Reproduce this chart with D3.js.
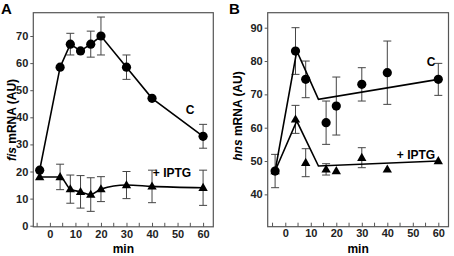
<!DOCTYPE html>
<html>
<head>
<meta charset="utf-8">
<script src="https://cdn.jsdelivr.net/npm/d3@7"></script>
<style>
  body { margin: 0; background: #fff; }
  text { font-family: "Liberation Sans", Arial, sans-serif; font-weight: bold; }
</style>
</head>
<body>
<div class="box"></div>
<script>
// ---- data ----
// panel A : fis mRNA
const timesA = [-4, 4, 8, 12, 16, 20, 30, 40, 60];
const fisC = [20.5, 58.5, 67, 64.5, 67, 70, 58.5, 47, 33];
const fisCErr = [0, 0, 4, 0, 4.8, 7, 4.5, 0, 4.4];
const fisIPTG = [18, 18, 13.5, 12.5, 11.5, 13.5, 15, 14.5, 14];
const fisIPTGErr = [0, 4.7, 5.2, 6, 6.2, 4.6, 5, 6, 6.5];

// panel B : hns mRNA
const timesB = [-4, 4, 8, 16, 20, 30, 40, 60];
const hnsC = [47, 83, 74.5, 61.5, 66.5, 73, 76.5, 74.5];
const hnsCErr = [5, 7, 5.5, 6.5, 8.7, 5, 9.5, 4.8];
const hnsIPTG = [47, 62.5, 49.5, 47.5, 47, 51, 47.5, 50];
const hnsIPTGErr = [0, 4.2, 4.2, 1.7, 0, 3, 0, 0];
// fitted lines in B
const fitTimes = [-4, 4.5, 13, 60];
const fitC = [47, 83, 68.5, 74.5];
const fitIPTG = [47, 62, 48.5, 50];

const xTicks = [0, 10, 20, 30, 40, 50, 60];
const xMinor = [-5, 5, 15, 25, 35, 45, 55];
const yTicksA = [0, 10, 20, 30, 40, 50, 60, 70];
const yTicksB = [40, 50, 60, 70, 80, 90];

const svg = d3.select('.box')
              .append('svg')
              .attr('width', 454)
              .attr('height', 256);

const frameCol = '#555';
const errCol = '#444';

function panel(cfg) {
  const x = d3.scaleLinear().domain(cfg.xDom).range([cfg.left, cfg.right]);
  const y = d3.scaleLinear().domain(cfg.yDom).range([cfg.bottom, cfg.top]);
  const g = svg.append('g');

  // frame
  g.append('rect')
   .attr('x', cfg.left).attr('y', cfg.top)
   .attr('width', cfg.right - cfg.left).attr('height', cfg.bottom - cfg.top)
   .attr('fill', 'none').attr('stroke', frameCol).attr('stroke-width', 1.2);

  // y axis (outward ticks)
  const axY = g.append('g')
    .attr('transform', `translate(${cfg.left},0)`)
    .call(d3.axisLeft(y).tickValues(cfg.yTicks).tickSize(3).tickPadding(2));
  axY.select('.domain').remove();
  axY.selectAll('line').attr('stroke', frameCol);
  axY.selectAll('text').style('font-size', '11px').attr('fill', '#222');

  // x axis (inward ticks)
  const axX = g.append('g')
    .attr('transform', `translate(0,${cfg.bottom})`)
    .call(d3.axisBottom(x).tickValues(xTicks).tickSize(-4).tickPadding(3));
  axX.select('.domain').remove();
  axX.selectAll('line').attr('stroke', frameCol);
  axX.selectAll('text').style('font-size', '11px').attr('fill', '#222');
  g.selectAll('.minor').data(xMinor).enter().append('line')
   .attr('x1', d => x(d)).attr('x2', d => x(d))
   .attr('y1', cfg.bottom).attr('y2', cfg.bottom - 4)
   .attr('stroke', frameCol);

  // labels
  g.append('text').attr('x', cfg.letterX).attr('y', 14)
   .style('font-size', '15px').text(cfg.letter);
  g.append('text').attr('x', (cfg.left + cfg.right) / 2).attr('y', 253)
   .attr('text-anchor', 'middle').style('font-size', '12px').text('min');
  const yl = g.append('text')
   .attr('transform', `translate(${cfg.yLabX},${cfg.yLabY}) rotate(-90)`)
   .attr('text-anchor', 'middle').style('font-size', '12px');
  yl.append('tspan').style('font-style', 'italic').text(cfg.gene);
  yl.append('tspan').text(' mRNA (AU)');

  return {x, y, g};
}

function errBars(p, t, v, e) {
  const d = t.map((tt, i) => ({t: tt, v: v[i], e: e[i]})).filter(d => d.e > 0);
  const eg = p.g.append('g').attr('stroke', errCol).attr('stroke-width', 1);
  eg.selectAll('.v').data(d).enter().append('line')
    .attr('x1', d => p.x(d.t)).attr('x2', d => p.x(d.t))
    .attr('y1', d => p.y(d.v - d.e)).attr('y2', d => p.y(d.v + d.e));
  [-1, 1].forEach(s => {
    eg.selectAll('.c' + s).data(d).enter().append('line')
      .attr('x1', d => p.x(d.t) - 4).attr('x2', d => p.x(d.t) + 4)
      .attr('y1', d => p.y(d.v + s * d.e)).attr('y2', d => p.y(d.v + s * d.e));
  });
}

function line(p, t, v, curve) {
  const l = d3.line().x(d => p.x(d[0])).y(d => p.y(d[1])).curve(curve || d3.curveLinear);
  p.g.append('path').datum(t.map((tt, i) => [tt, v[i]]))
    .attr('d', l).attr('fill', 'none').attr('stroke', '#000').attr('stroke-width', 1.6);
}

function circles(p, t, v) {
  p.g.selectAll('.dot').data(t.map((tt, i) => [tt, v[i]])).enter().append('circle')
    .attr('cx', d => p.x(d[0])).attr('cy', d => p.y(d[1])).attr('r', 4.6).attr('fill', '#000');
}

function triangles(p, t, v) {
  const sym = d3.symbol().type(d3.symbolTriangle).size(38);
  p.g.selectAll('.tri').data(t.map((tt, i) => [tt, v[i]])).enter().append('path')
    .attr('d', sym).attr('transform', d => `translate(${p.x(d[0])},${p.y(d[1]) + 0.5})`)
    .attr('fill', '#000');
}

// ---- Panel A ----
const pA = panel({left: 33.3, right: 213.3, top: 12.7, bottom: 226.8,
  xDom: [-6.5, 64], yDom: [-0.4, 78.6], yTicks: yTicksA,
  letter: 'A', letterX: 1, gene: 'fis', yLabX: 16, yLabY: 120});
errBars(pA, timesA, fisC, fisCErr);
errBars(pA, timesA, fisIPTG, fisIPTGErr);
line(pA, timesA, fisC);
line(pA, timesA, fisIPTG, d3.curveMonotoneX);
circles(pA, timesA, fisC);
triangles(pA, timesA, fisIPTG);
pA.g.append('text').attr('x', 190).attr('y', 114).attr('text-anchor', 'middle')
  .style('font-size', '12px').text('C');
pA.g.append('text').attr('x', 172).attr('y', 177).attr('text-anchor', 'middle')
  .style('font-size', '12px').text('+ IPTG');

// ---- Panel B ----
const pB = panel({left: 267.7, right: 448.5, top: 12.7, bottom: 226.7,
  xDom: [-6.9, 64], yDom: [30.3, 94.5], yTicks: yTicksB,
  letter: 'B', letterX: 229, gene: 'hns', yLabX: 242, yLabY: 116});
errBars(pB, timesB, hnsC, hnsCErr);
errBars(pB, timesB, hnsIPTG, hnsIPTGErr);
line(pB, fitTimes, fitC);
line(pB, fitTimes, fitIPTG);
circles(pB, timesB, hnsC);
triangles(pB, timesB, hnsIPTG);
pB.g.append('text').attr('x', 431).attr('y', 66).attr('text-anchor', 'middle')
  .style('font-size', '12px').text('C');
pB.g.append('text').attr('x', 416).attr('y', 159).attr('text-anchor', 'middle')
  .style('font-size', '12px').text('+ IPTG');
</script>
</body>
</html>
